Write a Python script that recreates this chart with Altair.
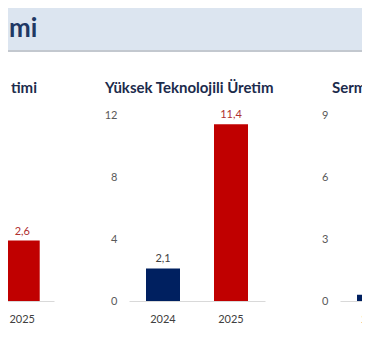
import altair as alt
import pandas as pd

# ---------------- data ----------------
years = ["2024", "2025"]

header_text = "mi"

left_title = "timi"
left_years = ["2025"]
left_values = [2.6]

mid_title = "Yüksek Teknolojili Üretim"
mid_years = ["2024", "2025"]
mid_values = [2.1, 11.4]

right_title = "Sermaye Malı Üretimi"
right_years = ["2024"]
right_values = [0.3]

# ---------------- style ----------------
FONT = "Lato"
NAVY = "#002060"
RED = "#c00000"
LABEL_RED = "#b03030"
LABEL_DARK = "#404040"
TITLE_C = "#1c2b4c"
HEADER_BG = "#dce5f0"
HEADER_TXT = "#1f3864"
AXIS_LINE = "#d9d9d9"

PLOT_H = 186


def panel(yrs, vals, title, ymax, tick_step, width, pad_in, show_axis, anchor, tdx, tdy):
    df = pd.DataFrame({"year": yrs, "value": vals})
    base = alt.Chart(df).transform_calculate(
        label="replace(format(datum.value, '.1f'), '.', ',')"
    )
    x = alt.X(
        "year:N",
        scale=alt.Scale(domain=years, paddingInner=pad_in, paddingOuter=pad_in / 2),
        axis=alt.Axis(
            title=None, labelAngle=0, domainColor=AXIS_LINE, domainWidth=1,
            ticks=False, tickSize=0, labelPadding=12, labelColor=LABEL_DARK,
            labelFont=FONT, labelFontSize=11,
        ),
    )
    if show_axis:
        yaxis = alt.Axis(
            values=list(range(0, ymax + 1, tick_step)), title=None, grid=False,
            domain=False, ticks=False, tickSize=0, labelPadding=12,
            labelColor="#595959", labelFont=FONT, labelFontSize=11,
        )
        y = alt.Y("value:Q", scale=alt.Scale(domain=[0, ymax], nice=False), axis=yaxis)
    else:
        y = alt.Y("value:Q", scale=alt.Scale(domain=[0, ymax], nice=False), axis=None)
    bars = base.mark_bar().encode(
        x=x, y=y,
        color=alt.condition("datum.year == '2024'", alt.value(NAVY), alt.value(RED)),
    )
    text = base.mark_text(baseline="bottom", dy=-4, font=FONT, fontSize=11).encode(
        x=x, y=y, text="label:N",
        color=alt.condition("datum.year == '2024'", alt.value(LABEL_DARK), alt.value(LABEL_RED)),
    )
    return alt.layer(bars, text).properties(
        width=width, height=PLOT_H,
        title=alt.TitleParams(
            title, anchor=anchor, frame="group", dx=tdx, dy=tdy,
            font=FONT, fontSize=15, fontWeight="bold", color=TITLE_C,
        ),
    )


LEFT_W = 127
left = panel(left_years, left_values, left_title, 8, 2, LEFT_W, 0.45, False, "end", -17, -15)
mid = panel(mid_years, mid_values, mid_title, 12, 4, 136, 0.5, True, "start", -24, -9)
right = panel(right_years, right_values, right_title, 9, 3, 136, 0.5, True, "start", -8, -9)

row = alt.hconcat(left, mid, right, spacing=75, bounds="flush")

TOTAL_W = LEFT_W + 75 + 136 + 75 + 136

hdr_df = pd.DataFrame({"text": [header_text]})
hdr_text = alt.Chart(hdr_df).mark_text(
    align="left", baseline="alphabetic", font=FONT, fontSize=26,
    fontWeight="bold", color=HEADER_TXT,
).encode(x=alt.value(82), y=alt.value(29), text="text:N")
hdr_line = alt.Chart(hdr_df).mark_rule(color="#c3c8cf", strokeWidth=2).encode(
    x=alt.value(0), x2=alt.value(TOTAL_W), y=alt.value(43)
)
header = alt.layer(hdr_text, hdr_line).properties(
    width=TOTAL_W, height=42, view=alt.ViewBackground(fill=HEADER_BG, strokeWidth=0)
)

# The visible page area is 354 x 344 (8px page margin); keep the svg inside it.
chart = alt.vconcat(header, row, spacing=65, bounds="flush").properties(
    autosize=alt.AutoSizeParams(type="none"),
    padding={"left": -81, "top": 0, "right": 435, "bottom": 344},
    background="white",
).configure_view(stroke="transparent", strokeWidth=0)

chart.save("out.html", embed_options={"renderer": "svg", "actions": False})
